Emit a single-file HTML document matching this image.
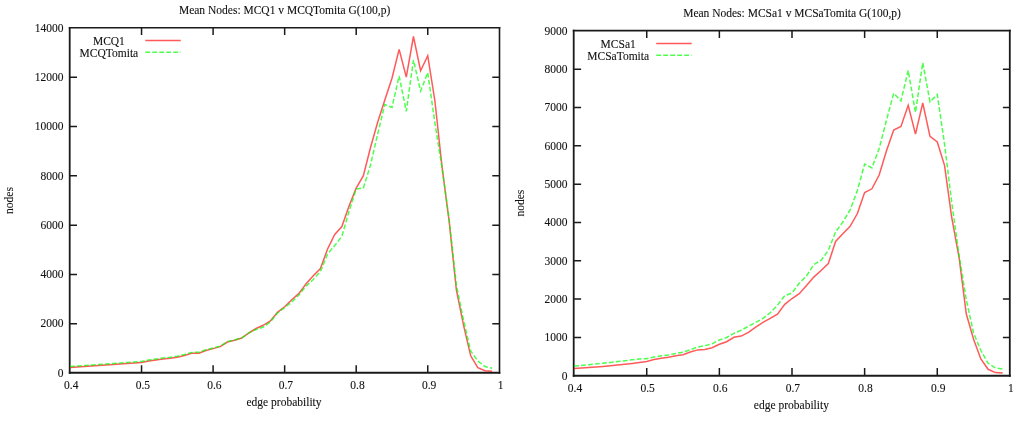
<!DOCTYPE html>
<html><head><meta charset="utf-8"><style>
html,body{margin:0;padding:0;background:#fff;width:1024px;height:421px;overflow:hidden}
svg{display:block;will-change:transform}
text{font-family:"Liberation Serif",serif;font-size:11.5px;fill:#111;stroke:#111;stroke-width:0.1px}
</style></head><body>
<svg width="1024" height="421" viewBox="0 0 1024 421">
<rect width="1024" height="421" fill="#fff"/>
<text x="63.4" y="376.6" text-anchor="end">0</text>
<text x="63.4" y="327.3" text-anchor="end">2000</text>
<text x="63.4" y="278.0" text-anchor="end">4000</text>
<text x="63.4" y="228.7" text-anchor="end">6000</text>
<text x="63.4" y="179.5" text-anchor="end">8000</text>
<text x="63.4" y="130.2" text-anchor="end">10000</text>
<text x="63.4" y="80.9" text-anchor="end">12000</text>
<text x="63.4" y="31.6" text-anchor="end">14000</text>
<text x="71.3" y="388.9" text-anchor="middle">0.4</text>
<text x="142.9" y="388.9" text-anchor="middle">0.5</text>
<text x="214.4" y="388.9" text-anchor="middle">0.6</text>
<text x="285.9" y="388.9" text-anchor="middle">0.7</text>
<text x="357.5" y="388.9" text-anchor="middle">0.8</text>
<text x="429.1" y="388.9" text-anchor="middle">0.9</text>
<text x="500.6" y="388.9" text-anchor="middle">1</text>
<path d="M70.00 323.71h7M499.30 323.71h-7M70.00 274.43h7M499.30 274.43h-7M70.00 225.14h7M499.30 225.14h-7M70.00 175.86h7M499.30 175.86h-7M70.00 126.57h7M499.30 126.57h-7M70.00 77.29h7M499.30 77.29h-7M141.55 373.00v-7.8M141.55 28.00v7M213.10 373.00v-7.8M213.10 28.00v7M284.65 373.00v-7.8M284.65 28.00v7M356.20 373.00v-7.8M356.20 28.00v7M427.75 373.00v-7.8M427.75 28.00v7" stroke="#1a1a1a" stroke-width="1.5" fill="none"/>
<path d="M69.7 27.00V373.80" stroke="#1a1a1a" stroke-width="1.8" fill="none"/>
<path d="M499.5 27.00V373.80" stroke="#1a1a1a" stroke-width="1.6" fill="none"/>
<path d="M68.80 27.8H500.30" stroke="#1a1a1a" stroke-width="1.6" fill="none"/>
<path d="M68.80 372.8H500.30" stroke="#1a1a1a" stroke-width="2.0" fill="none"/>
<text x="284.6" y="14.3" text-anchor="middle">Mean Nodes: MCQ1 v MCQTomita G(100,p)</text>
<text x="284.0" y="405.8" text-anchor="middle">edge probability</text>
<text transform="translate(13.3 200.5) rotate(-90)" text-anchor="middle">nodes</text>
<text x="108.9" y="44.9" text-anchor="middle">MCQ1</text>
<text x="108.9" y="56.7" text-anchor="middle">MCQTomita</text>
<path d="M145.3 40.6h35.5" stroke="#f00" stroke-opacity="0.65" stroke-width="1.5" fill="none"/>
<path d="M145.3 52.3h35.5" stroke="#0f0" stroke-opacity="0.7" stroke-width="1.5" stroke-dasharray="4.8 2.2" fill="none"/>
<polyline points="70.00,367.6 77.15,367.1 84.31,366.6 91.46,366.1 98.62,365.6 105.77,365.1 112.93,364.6 120.08,364.1 127.24,363.5 134.39,363.0 141.55,362.4 148.70,361.0 155.86,360.0 163.01,359.0 170.17,358.2 177.33,357.2 184.48,355.5 191.63,353.2 198.79,353.3 205.94,350.5 213.10,348.6 220.25,346.6 227.41,342.0 234.56,340.3 241.72,338.0 248.88,333.0 256.03,328.5 263.19,325.3 270.34,321.0 277.49,312.3 284.65,306.8 291.80,299.8 298.96,293.4 306.12,283.8 313.27,275.8 320.43,268.6 327.58,249.0 334.74,234.5 341.89,226.5 349.05,206.0 356.20,188.0 363.36,175.7 370.51,147.5 377.66,122.3 384.82,100.0 391.98,78.2 399.13,49.4 406.29,77.1 413.44,36.5 420.60,70.7 427.75,55.8 434.91,101.0 442.06,167.0 449.22,222.0 456.37,290.0 463.52,325.2 470.68,355.8 477.83,367.7 484.99,370.8 492.14,371.3" stroke="#f00" stroke-opacity="0.65" stroke-width="1.5" fill="none" stroke-linejoin="miter"/>
<polyline points="70.00,366.6 77.15,366.1 84.31,365.6 91.46,365.1 98.62,364.6 105.77,364.1 112.93,363.6 120.08,363.1 127.24,362.5 134.39,362.0 141.55,361.4 148.70,360.0 155.86,359.0 163.01,358.0 170.17,357.2 177.33,356.2 184.48,354.5 191.63,352.4 198.79,352.3 205.94,349.8 213.10,348.0 220.25,346.0 227.41,341.6 234.56,340.0 241.72,337.8 248.88,332.8 256.03,329.5 263.19,327.0 270.34,322.0 277.49,313.0 284.65,307.5 291.80,302.0 298.96,295.0 306.12,286.0 313.27,279.5 320.43,271.4 327.58,254.0 334.74,245.5 341.89,236.3 349.05,211.2 356.20,189.0 363.36,188.0 370.51,165.0 377.66,134.0 384.82,104.5 391.98,107.4 399.13,76.0 406.29,111.3 413.44,60.0 420.60,91.0 427.75,72.6 434.91,123.0 442.06,168.0 449.22,220.0 456.37,285.0 463.52,320.0 470.68,351.0 477.83,361.0 484.99,366.5 492.14,368.2" stroke="#0f0" stroke-opacity="0.7" stroke-width="1.5" fill="none" stroke-dasharray="4.8 2.2"/>
<text x="567.5" y="379.6" text-anchor="end">0</text>
<text x="567.5" y="341.3" text-anchor="end">1000</text>
<text x="567.5" y="303.0" text-anchor="end">2000</text>
<text x="567.5" y="264.7" text-anchor="end">3000</text>
<text x="567.5" y="226.4" text-anchor="end">4000</text>
<text x="567.5" y="188.0" text-anchor="end">5000</text>
<text x="567.5" y="149.7" text-anchor="end">6000</text>
<text x="567.5" y="111.4" text-anchor="end">7000</text>
<text x="567.5" y="73.1" text-anchor="end">8000</text>
<text x="567.5" y="34.8" text-anchor="end">9000</text>
<text x="575.0" y="391.8" text-anchor="middle">0.4</text>
<text x="647.6" y="391.8" text-anchor="middle">0.5</text>
<text x="720.3" y="391.8" text-anchor="middle">0.6</text>
<text x="792.9" y="391.8" text-anchor="middle">0.7</text>
<text x="865.5" y="391.8" text-anchor="middle">0.8</text>
<text x="938.2" y="391.8" text-anchor="middle">0.9</text>
<text x="1010.8" y="391.8" text-anchor="middle">1</text>
<path d="M574.10 337.39h7M1009.90 337.39h-7M574.10 299.08h7M1009.90 299.08h-7M574.10 260.77h7M1009.90 260.77h-7M574.10 222.46h7M1009.90 222.46h-7M574.10 184.14h7M1009.90 184.14h-7M574.10 145.83h7M1009.90 145.83h-7M574.10 107.52h7M1009.90 107.52h-7M574.10 69.21h7M1009.90 69.21h-7M646.73 375.70v-7.8M646.73 30.90v7M719.37 375.70v-7.8M719.37 30.90v7M792.00 375.70v-7.8M792.00 30.90v7M864.63 375.70v-7.8M864.63 30.90v7M937.27 375.70v-7.8M937.27 30.90v7" stroke="#1a1a1a" stroke-width="1.5" fill="none"/>
<path d="M573.7 29.80V376.75" stroke="#1a1a1a" stroke-width="1.8" fill="none"/>
<path d="M1009.8 29.80V376.75" stroke="#1a1a1a" stroke-width="1.8" fill="none"/>
<path d="M572.80 30.6H1010.70" stroke="#1a1a1a" stroke-width="1.6" fill="none"/>
<path d="M572.80 375.7H1010.70" stroke="#1a1a1a" stroke-width="2.1" fill="none"/>
<text x="792.0" y="17.3" text-anchor="middle">Mean Nodes: MCSa1 v MCSaTomita G(100,p)</text>
<text x="791.4" y="409.2" text-anchor="middle">edge probability</text>
<text transform="translate(524.0 203.2) rotate(-90)" text-anchor="middle">nodes</text>
<text x="618.2" y="47.8" text-anchor="middle">MCSa1</text>
<text x="618.2" y="59.6" text-anchor="middle">MCSaTomita</text>
<path d="M656.2 43.5h35.5" stroke="#f00" stroke-opacity="0.65" stroke-width="1.5" fill="none"/>
<path d="M656.2 55.2h35.5" stroke="#0f0" stroke-opacity="0.7" stroke-width="1.5" stroke-dasharray="4.8 2.2" fill="none"/>
<polyline points="574.10,368.4 581.36,368.0 588.63,367.6 595.89,367.1 603.15,366.5 610.42,365.8 617.68,365.1 624.94,364.3 632.21,363.4 639.47,362.5 646.73,361.5 654.00,359.5 661.26,358.2 668.52,357.2 675.79,355.7 683.05,354.7 690.31,352.0 697.58,349.9 704.84,349.4 712.10,347.8 719.37,344.3 726.63,341.7 733.89,337.3 741.16,336.1 748.42,332.3 755.68,327.1 762.95,322.3 770.21,318.4 777.47,314.2 784.74,304.3 792.00,298.5 799.26,293.7 806.53,285.5 813.79,277.1 821.05,270.5 828.32,263.6 835.58,241.5 842.84,233.8 850.11,226.3 857.37,213.5 864.63,192.5 871.90,188.8 879.16,175.0 886.42,151.0 893.69,130.0 900.95,126.5 908.21,105.3 915.48,134.1 922.74,103.0 930.00,136.4 937.27,142.0 944.53,165.4 951.79,218.0 959.06,257.5 966.32,314.0 973.58,339.3 980.85,359.0 988.11,369.3 995.37,372.6 1002.64,373.0" stroke="#f00" stroke-opacity="0.65" stroke-width="1.5" fill="none" stroke-linejoin="miter"/>
<polyline points="574.10,366.1 581.36,365.4 588.63,364.7 595.89,364.0 603.15,363.2 610.42,362.4 617.68,361.6 624.94,360.7 632.21,359.8 639.47,358.9 646.73,358.7 654.00,357.0 661.26,355.8 668.52,354.9 675.79,353.5 683.05,352.2 690.31,349.7 697.58,347.0 704.84,345.7 712.10,343.8 719.37,340.0 726.63,337.5 733.89,333.3 741.16,330.2 748.42,326.3 755.68,322.4 762.95,318.4 770.21,312.8 777.47,305.2 784.74,295.7 792.00,293.0 799.26,283.2 806.53,276.0 813.79,264.5 821.05,260.4 828.32,250.5 835.58,232.0 842.84,222.0 850.11,210.0 857.37,190.5 864.63,164.0 871.90,168.0 879.16,148.5 886.42,120.5 893.69,93.3 900.95,100.9 908.21,70.5 915.48,112.5 922.74,62.6 930.00,101.9 937.27,94.5 944.53,144.0 951.79,203.0 959.06,255.0 966.32,300.0 973.58,333.0 980.85,350.5 988.11,363.3 995.37,367.8 1002.64,369.0" stroke="#0f0" stroke-opacity="0.7" stroke-width="1.5" fill="none" stroke-dasharray="4.8 2.2"/>
</svg>
</body></html>
